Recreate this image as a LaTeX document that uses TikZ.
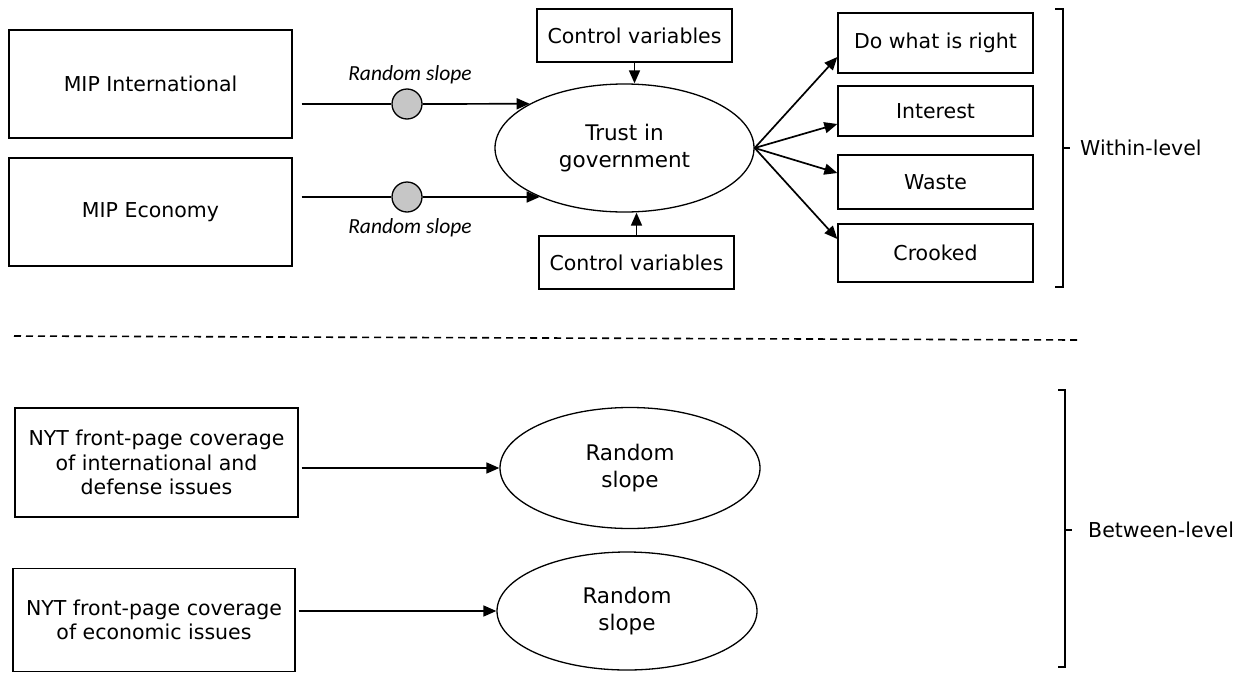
\documentclass[tikz,border=0pt]{standalone}
\usepackage{fontspec}
\setmainfont{DejaVu Sans}
\newfontfamily\labelfont{Carlito}
\usetikzlibrary{arrows.meta,shapes.geometric}
\begin{document}
\begin{tikzpicture}[x=1pt,y=-1pt,
  box/.style={draw, line width=1.3pt, inner sep=0pt, align=center,
    font=\fontsize{20.5}{24.5}\selectfont},
  oval/.style={draw, ellipse, line width=1.3pt, inner sep=0pt, align=center,
    font=\fontsize{21.5}{27}\selectfont},
  arr/.style={line width=1.7pt, -{Triangle[length=13pt,width=11pt]}},
  plain/.style={line width=1.7pt},
  slopelabel/.style={font=\labelfont\itshape\fontsize{21.5}{24}\selectfont},
  dot/.style={circle, draw, fill=gray!45, line width=1.3pt, minimum size=30pt, inner sep=0pt},
  bracket/.style={line width=1.4pt},
  sepline/.style={line width=1.6pt, dash pattern=on 7pt off 5pt},
  lvl/.style={anchor=west, inner sep=0pt, font=\fontsize{20.5}{24}\selectfont}]

\useasboundingbox (0,0) rectangle (1249,672);

% ---- within level -------------------------------------------------
\node[box, minimum width=283pt, minimum height=108pt] (mipint) at (150.5,84) {MIP International};
\node[box, minimum width=283pt, minimum height=108pt] (mipeco) at (150.5,212) {MIP Economy};

\node[box, minimum width=195pt, minimum height=53pt] (ctrltop) at (634.5,35.5) {Control variables};
\node[box, minimum width=195pt, minimum height=53pt] (ctrlbot) at (636.5,262.5) {Control variables};

\node[oval, minimum width=259pt, minimum height=128pt] (trust) at (624.5,148) {Trust in\\government};

\node[box, minimum width=195pt, minimum height=60pt] (right) at (935.5,43) {Do what is right};
\node[box, minimum width=195pt, minimum height=50pt] (interest) at (935.5,111) {Interest};
\node[box, minimum width=195pt, minimum height=54pt] (waste) at (935.5,182) {Waste};
\node[box, minimum width=195pt, minimum height=58pt] (crooked) at (935.5,253) {Crooked};

\node[dot] (d1) at (407,104) {};
\node[dot] (d2) at (407,197) {};
\node[slopelabel] (rs1) at (410,75) {Random slope};
\node[slopelabel] (rs2) at (410,228) {Random slope};

\draw[plain] ([xshift=9pt]mipint.east |- d1) -- (d1.west);
\draw[arr] (d1.east) -- (trust.155.4);
\draw[plain] ([xshift=9pt]mipeco.east |- d2) -- (d2.west);
\draw[arr] (d2.east) -- (trust.210.8);

\draw[arr] (ctrltop.south) -- (ctrltop.south |- trust.north);
\draw[arr] (ctrlbot.north) -- (ctrlbot.north |- trust.south);

\draw[arr] (trust.east) -- ([yshift=-14pt]right.west);
\draw[arr] (trust.east) -- ([yshift=-13pt]interest.west);
\draw[arr] (trust.east) -- ([yshift=9pt]waste.west);
\draw[arr] (trust.east) -- ([yshift=14pt]crooked.west);

% bracket for the within level
\draw[bracket] (1055,9) -- (1063,9) -- (1063,287) -- (1055,287);
\draw[bracket] (1063,148) -- (1070,148);
\node[lvl] (within) at (1080,148) {Within-level};

% ---- separator ----------------------------------------------------
\coordinate (sepl) at (14,336);
\coordinate (sepr) at (1077,340);
\draw[sepline] (sepl) -- (sepr);

% ---- between level ------------------------------------------------
\node[box, minimum width=283pt, minimum height=109pt] (nytint) at (156.5,462.5)
  {NYT front-page coverage\\of international and\\defense issues};
\node[box, minimum width=282pt, minimum height=103pt] (nyteco) at (154,620)
  {NYT front-page coverage\\of economic issues};

\node[oval, minimum width=260pt, minimum height=121pt] (rs3) at (630,468) {Random\\slope};
\node[oval, minimum width=260pt, minimum height=118pt] (rs4) at (627,611) {Random\\slope};

\draw[arr] ([xshift=3pt]nytint.east |- rs3.west) -- (rs3.west);
\draw[arr] ([xshift=3pt]nyteco.east |- rs4.west) -- (rs4.west);

% bracket for the between level
\draw[bracket] (1058,390) -- (1065,390) -- (1065,667) -- (1058,667);
\draw[bracket] (1065,530) -- (1072,530);
\node[lvl] (between) at (1088,530) {Between-level};

\end{tikzpicture}
\end{document}
